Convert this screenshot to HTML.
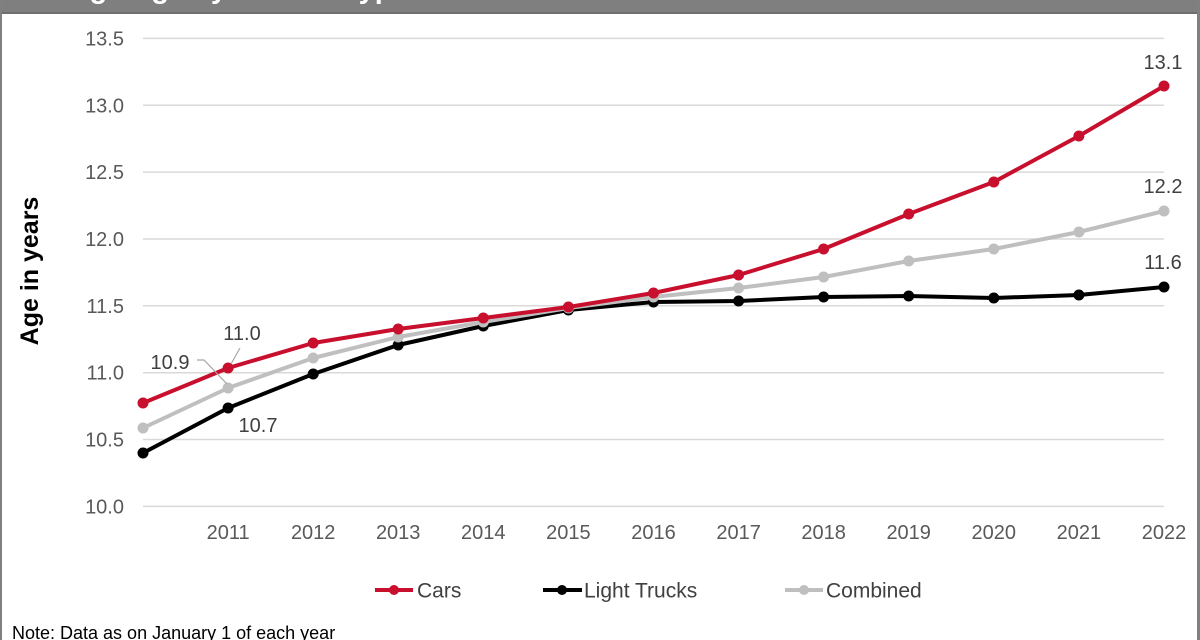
<!DOCTYPE html>
<html>
<head>
<meta charset="utf-8">
<style>
html,body{margin:0;padding:0;background:#fff;}
svg{display:block;font-family:"Liberation Sans",Arial,sans-serif;}
</style>
</head>
<body>
<svg width="1200" height="640" viewBox="0 0 1200 640" xmlns="http://www.w3.org/2000/svg">
<rect x="0" y="0" width="1200" height="640" fill="#fff"/>
<!-- top bar -->
<rect x="0" y="0" width="1200" height="14" fill="#7f7f7f"/>
<rect x="0" y="12" width="1200" height="2" fill="#6f6f6f"/>
<text x="10" y="-2" font-size="29" font-weight="bold" fill="#fff">Average Age by Vehicle Type</text>
<!-- side borders -->
<rect x="0" y="0" width="2" height="640" fill="#808080"/>
<rect x="1197" y="0" width="3" height="640" fill="#808080"/>

<!-- gridlines -->
<g stroke="#d9d9d9" stroke-width="1.5">
<line x1="143" y1="38.4" x2="1164" y2="38.4"/>
<line x1="143" y1="105.3" x2="1164" y2="105.3"/>
<line x1="143" y1="172.1" x2="1164" y2="172.1"/>
<line x1="143" y1="239" x2="1164" y2="239"/>
<line x1="143" y1="305.8" x2="1164" y2="305.8"/>
<line x1="143" y1="372.7" x2="1164" y2="372.7"/>
<line x1="143" y1="439.5" x2="1164" y2="439.5"/>
<line x1="143" y1="506.4" x2="1164" y2="506.4"/>
</g>

<!-- y labels -->
<g font-size="20" fill="#595959" text-anchor="end">
<text x="124" y="45.5">13.5</text>
<text x="124" y="112.3">13.0</text>
<text x="124" y="179.1">12.5</text>
<text x="124" y="246">12.0</text>
<text x="124" y="312.8">11.5</text>
<text x="124" y="379.7">11.0</text>
<text x="124" y="446.5">10.5</text>
<text x="124" y="513.4">10.0</text>
</g>

<!-- x labels -->
<g font-size="20" fill="#595959" text-anchor="middle">
<text x="228.1" y="539">2011</text>
<text x="313.2" y="539">2012</text>
<text x="398.2" y="539">2013</text>
<text x="483.3" y="539">2014</text>
<text x="568.4" y="539">2015</text>
<text x="653.5" y="539">2016</text>
<text x="738.6" y="539">2017</text>
<text x="823.6" y="539">2018</text>
<text x="908.7" y="539">2019</text>
<text x="993.8" y="539">2020</text>
<text x="1078.9" y="539">2021</text>
<text x="1164" y="539">2022</text>
</g>

<!-- axis title -->
<text transform="translate(38,271) rotate(-90)" font-size="25" font-weight="bold" fill="#000" text-anchor="middle">Age in years</text>

<!-- Light Trucks -->
<g>
<polyline fill="none" stroke="#000" stroke-width="4" stroke-linejoin="round"
points="143,453 228.1,408 313.2,374 398.2,345 483.3,326 568.4,310 653.5,302 738.6,301 823.6,297 908.7,296 993.8,298 1078.9,295 1164,287"/>
<g fill="#000">
<circle cx="143" cy="453" r="5.5"/><circle cx="228.1" cy="408" r="5.5"/><circle cx="313.2" cy="374" r="5.5"/><circle cx="398.2" cy="345" r="5.5"/><circle cx="483.3" cy="326" r="5.5"/><circle cx="568.4" cy="310" r="5.5"/><circle cx="653.5" cy="302" r="5.5"/><circle cx="738.6" cy="301" r="5.5"/><circle cx="823.6" cy="297" r="5.5"/><circle cx="908.7" cy="296" r="5.5"/><circle cx="993.8" cy="298" r="5.5"/><circle cx="1078.9" cy="295" r="5.5"/><circle cx="1164" cy="287" r="5.5"/>
</g>
</g>

<!-- Combined -->
<g>
<polyline fill="none" stroke="#bfbfbf" stroke-width="4" stroke-linejoin="round"
points="143,428 228.1,388 313.2,358 398.2,337 483.3,322 568.4,308 653.5,297 738.6,288 823.6,277 908.7,261 993.8,249 1078.9,232 1164,211"/>
<g fill="#bfbfbf">
<circle cx="143" cy="428" r="5.5"/><circle cx="228.1" cy="388" r="5.5"/><circle cx="313.2" cy="358" r="5.5"/><circle cx="398.2" cy="337" r="5.5"/><circle cx="483.3" cy="322" r="5.5"/><circle cx="568.4" cy="308" r="5.5"/><circle cx="653.5" cy="297" r="5.5"/><circle cx="738.6" cy="288" r="5.5"/><circle cx="823.6" cy="277" r="5.5"/><circle cx="908.7" cy="261" r="5.5"/><circle cx="993.8" cy="249" r="5.5"/><circle cx="1078.9" cy="232" r="5.5"/><circle cx="1164" cy="211" r="5.5"/>
</g>
</g>

<!-- Cars -->
<g>
<polyline fill="none" stroke="#c8102e" stroke-width="4" stroke-linejoin="round"
points="143,403 228.1,368 313.2,343 398.2,329 483.3,318 568.4,307 653.5,293 738.6,275 823.6,249 908.7,214 993.8,182 1078.9,136 1164,86"/>
<g fill="#c8102e">
<circle cx="143" cy="403" r="5.5"/><circle cx="228.1" cy="368" r="5.5"/><circle cx="313.2" cy="343" r="5.5"/><circle cx="398.2" cy="329" r="5.5"/><circle cx="483.3" cy="318" r="5.5"/><circle cx="568.4" cy="307" r="5.5"/><circle cx="653.5" cy="293" r="5.5"/><circle cx="738.6" cy="275" r="5.5"/><circle cx="823.6" cy="249" r="5.5"/><circle cx="908.7" cy="214" r="5.5"/><circle cx="993.8" cy="182" r="5.5"/><circle cx="1078.9" cy="136" r="5.5"/><circle cx="1164" cy="86" r="5.5"/>
</g>
</g>

<!-- leader lines -->
<polyline points="197,360 204,360 227,384" fill="none" stroke="#a6a6a6" stroke-width="1.2"/>
<line x1="240" y1="348" x2="231" y2="364" stroke="#a6a6a6" stroke-width="1.2"/>

<!-- data labels -->
<g font-size="20" fill="#404040" text-anchor="middle">
<text x="1163" y="69">13.1</text>
<text x="1163" y="193">12.2</text>
<text x="1163" y="269">11.6</text>
<text x="242" y="340">11.0</text>
<text x="170" y="369">10.9</text>
<text x="258" y="432">10.7</text>
</g>

<!-- legend -->
<g>
<line x1="375" y1="590" x2="413" y2="590" stroke="#c8102e" stroke-width="4"/>
<circle cx="394" cy="590" r="5" fill="#c8102e"/>
<text x="417" y="597.5" font-size="21" fill="#404040">Cars</text>
<line x1="543" y1="590" x2="582" y2="590" stroke="#000" stroke-width="4"/>
<circle cx="562" cy="590" r="5" fill="#000"/>
<text x="584" y="597.5" font-size="21" fill="#404040">Light Trucks</text>
<line x1="785" y1="590" x2="823" y2="590" stroke="#bfbfbf" stroke-width="4"/>
<circle cx="804" cy="590" r="5" fill="#bfbfbf"/>
<text x="826" y="597.5" font-size="21" fill="#404040">Combined</text>
</g>

<!-- note -->
<text x="12" y="639" font-size="18" fill="#000">Note: Data as on January 1 of each year</text>
</svg>
</body>
</html>
